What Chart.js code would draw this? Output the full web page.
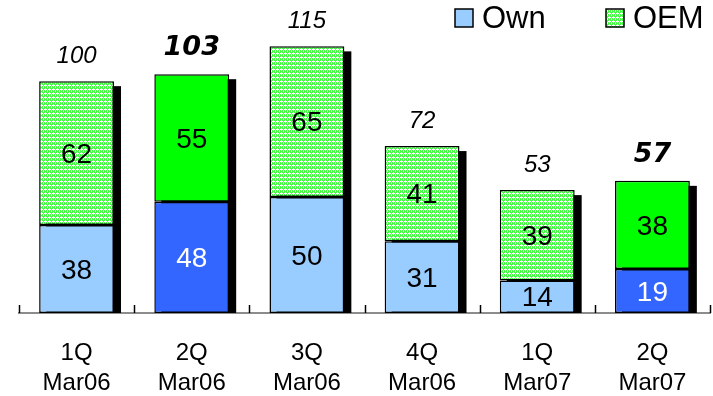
<!DOCTYPE html>
<html>
<head>
<meta charset="utf-8">
<script src="https://cdn.jsdelivr.net/npm/chart.js@4/dist/chart.umd.min.js"></script>
<style>
  html, body { margin: 0; padding: 0; background: #fff; }
  #wrap { width: 713px; height: 396px; position: relative; }
</style>
</head>
<body>
<div id="wrap"><canvas id="c" width="713" height="396"></canvas></div>
<script>
// Quarterly volumes, split into own-brand and OEM
const quarters = [['1Q', 'Mar06'], ['2Q', 'Mar06'], ['3Q', 'Mar06'], ['4Q', 'Mar06'], ['1Q', 'Mar07'], ['2Q', 'Mar07']];
const ownValues = [38, 48, 50, 31, 14, 19];
const oemValues = [62, 55, 65, 41, 39, 38];
// Quarters shown in solid colours with bold totals
const highlighted = [false, true, false, false, false, true];
const seriesNames = ['Own', 'OEM'];

const FONT = "'Liberation Sans', Arial, sans-serif";

// Light green trellis fill used for the regular OEM bars
function makeTrellis() {
  const t = document.createElement('canvas');
  t.width = 4; t.height = 4;
  const g = t.getContext('2d');
  g.fillStyle = '#44ff44';
  g.fillRect(0, 0, 4, 4);
  g.fillStyle = '#ffffff';
  [[1,0],[0,1],[1,1],[2,1],[1,2],[3,3],[3,2]].forEach(([x, y]) => g.fillRect(x, y, 1, 1));
  return document.getElementById('c').getContext('2d').createPattern(t, 'repeat');
}
const trellis = makeTrellis();

const ownColors = highlighted.map(h => h ? '#3366ff' : '#99ccff');
const oemColors = highlighted.map(h => h ? '#00ff00' : trellis);
const ownText = highlighted.map(h => h ? '#ffffff' : '#000000');

// Drop shadow behind each stacked column
const shadowPlugin = {
  id: 'shadow',
  beforeDatasetsDraw(chart) {
    const ctx = chart.ctx;
    const top = chart.getDatasetMeta(1).data;
    const base = chart.scales.y.getPixelForValue(0);
    ctx.save();
    ctx.fillStyle = '#000';
    top.forEach(el => {
      const w = el.width;
      ctx.fillRect(el.x - w / 2 + 7, el.y + 5, w, base - el.y - 5);
    });
    ctx.restore();
  }
};

// Segment values, column totals and the upward category ticks
const labelPlugin = {
  id: 'labels',
  afterDatasetsDraw(chart) {
    const ctx = chart.ctx;
    const xs = chart.scales.x;
    const base = chart.scales.y.getPixelForValue(0);
    ctx.save();
    ctx.textAlign = 'center';
    ctx.textBaseline = 'middle';
    chart.data.datasets.forEach((ds, di) => {
      chart.getDatasetMeta(di).data.forEach((el, i) => {
        ctx.font = '28px ' + FONT;
        ctx.fillStyle = di === 0 ? ownText[i] : '#000';
        ctx.fillText(String(ds.data[i]), el.x, (el.y + el.base) / 2 + 2);
      });
    });
    chart.getDatasetMeta(1).data.forEach((el, i) => {
      const total = ownValues[i] + oemValues[i];
      ctx.fillStyle = '#000';
      ctx.font = highlighted[i] ? "italic bold 27px 'DejaVu Sans', sans-serif" : 'italic 24px ' + FONT;
      ctx.fillText(String(total), el.x, el.y - (highlighted[i] ? 26 : 25));
    });
    const n = quarters.length;
    const step = xs.width / n;
    ctx.strokeStyle = '#000';
    ctx.lineWidth = 1.5;
    for (let i = 0; i <= n; i++) {
      const x = Math.round(xs.left + i * step) + 0.5;
      ctx.beginPath();
      ctx.moveTo(x, base - 8);
      ctx.lineTo(x, base);
      ctx.stroke();
    }
    ctx.restore();
  },
  afterDraw(chart) {
    // Legend in the upper right corner
    const ctx = chart.ctx;
    const items = [
      { text: seriesNames[0], fill: '#99ccff', x: 455 },
      { text: seriesNames[1], fill: trellis, x: 606 }
    ];
    ctx.save();
    ctx.textBaseline = 'middle';
    ctx.textAlign = 'left';
    ctx.font = '31px ' + FONT;
    items.forEach(it => {
      ctx.fillStyle = it.fill;
      ctx.fillRect(it.x, 9, 18, 18);
      ctx.strokeStyle = '#000';
      ctx.lineWidth = 1.5;
      ctx.strokeRect(it.x, 9, 18, 18);
      ctx.fillStyle = '#000';
      ctx.fillText(it.text, it.x + 27, 19);
    });
    ctx.restore();
  }
};

new Chart(document.getElementById('c'), {
  type: 'bar',
  data: {
    labels: quarters,
    datasets: [
      { label: seriesNames[0], data: ownValues, backgroundColor: ownColors,
        borderColor: '#000', borderWidth: 1.5, borderSkipped: false },
      { label: seriesNames[1], data: oemValues, backgroundColor: oemColors,
        borderColor: '#000', borderWidth: 1.5, borderSkipped: false }
    ]
  },
  options: {
    responsive: false,
    animation: false,
    layout: { padding: { left: 19, right: 3, top: 0, bottom: 0 } },
    datasets: { bar: { categoryPercentage: 1, barPercentage: 0.65 } },
    plugins: { legend: { display: false }, tooltip: { enabled: false } },
    scales: {
      x: {
        stacked: true,
        grid: { display: false, drawTicks: false },
        border: { display: true, color: '#8c8c8c', width: 2 },
        ticks: { color: '#000', padding: 25, font: { family: FONT, size: 24, lineHeight: 1.25 } },
        afterFit(scale) { scale.height = 83; }
      },
      y: {
        stacked: true, display: false, min: 0, max: 135
      }
    }
  },
  plugins: [shadowPlugin, labelPlugin]
});
</script>
</body>
</html>
